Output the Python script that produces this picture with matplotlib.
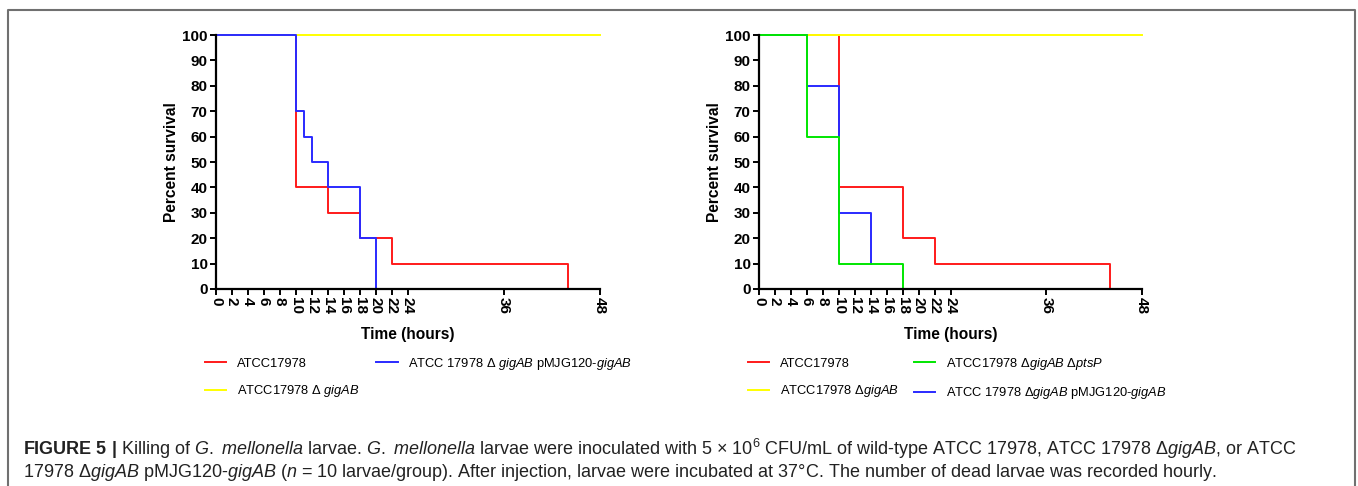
import matplotlib.pyplot as plt
from matplotlib.lines import Line2D

plt.rcParams['font.family'] = ['Liberation Sans', 'DejaVu Sans']
plt.rcParams['mathtext.fontset'] = 'custom'
plt.rcParams['mathtext.rm'] = 'Liberation Sans'
plt.rcParams['mathtext.it'] = 'Liberation Sans:italic'
plt.rcParams['mathtext.bf'] = 'Liberation Sans:bold'

# survival curves (time in hours, percent survival)
left_wt_t = [0, 10, 14, 18, 22, 44]
left_wt_s = [100, 40, 30, 20, 10, 0]
left_del_t = [0, 48]
left_del_s = [100, 100]
left_comp_t = [0, 10, 11, 12, 14, 18, 20]
left_comp_s = [100, 70, 60, 50, 40, 20, 0]

right_wt_t = [0, 10, 18, 22, 44]
right_wt_s = [100, 40, 20, 10, 0]
right_del_t = [0, 48]
right_del_s = [100, 100]
right_comp_t = [0, 6, 10, 14]
right_comp_s = [100, 80, 30, 10]
right_pts_t = [0, 6, 10, 18]
right_pts_s = [100, 60, 10, 0]

x_ticks = [0, 2, 4, 6, 8, 10, 12, 14, 16, 18, 20, 22, 24, 36, 48]
y_ticks = list(range(0, 101, 10))

lab_wt = 'ATCC17978'
lab_del = r'ATCC17978 $\mathit{\Delta\ gigAB}$'
lab_comp = r'ATCC 17978 $\mathit{\Delta\ gigAB}$ pMJG120-$\mathit{gigAB}$'
lab_del_r = r'ATCC17978 $\mathit{\Delta gigAB}$'
lab_pts = r'ATCC17978 $\mathit{\Delta gigAB\ \Delta ptsP}$'
lab_comp_r = r'ATCC 17978 $\mathit{\Delta gigAB}$ pMJG120-$\mathit{gigAB}$'

RED = '#ff1a1a'
YEL = '#ffff00'
BLUE = '#2a2aff'
GREEN = '#00e600'

W, H = 1358, 486
fig = plt.figure(figsize=(W / 100, H / 100), dpi=100)

# frame around the figure (no bottom edge)
fig.add_artist(Line2D([8 / W, 8 / W, 1355 / W, 1355 / W], [0, 1 - 10 / H, 1 - 10 / H, 0],
                      transform=fig.transFigure, color='#707070', lw=1.5))

ax1 = fig.add_axes([216 / W, 1 - 289 / H, 384 / W, 254 / H])
ax2 = fig.add_axes([759 / W, 1 - 289 / H, 383 / W, 254 / H])


def style(ax):
    ax.set_xlim(0, 48)
    ax.set_ylim(0, 100)
    ax.spines['top'].set_visible(False)
    ax.spines['right'].set_visible(False)
    ax.spines['left'].set_linewidth(1.6)
    ax.spines['bottom'].set_linewidth(1.6)
    ax.set_xticks(x_ticks)
    ax.set_yticks(y_ticks)
    ax.set_xticklabels([str(v) for v in x_ticks], rotation=-90, fontweight='bold', fontsize=11)
    ax.set_yticklabels([str(v) for v in y_ticks], fontweight='bold', fontsize=11)
    ax.tick_params(direction='out', length=4.5, width=1.4, pad=1.5)
    ax.set_xlabel('Time (hours)', fontweight='bold', fontsize=11.2)
    ax.set_ylabel('Percent survival', fontweight='bold', fontsize=11.2)
    ax.xaxis.set_label_coords(0.5, -0.15)
    ax.yaxis.set_label_coords(-0.097, 0.5)


lw = 1.4
ax1.step(left_wt_t, left_wt_s, where='post', color=RED, lw=lw, clip_on=False, label=lab_wt)
ax1.step(left_del_t, left_del_s, where='post', color=YEL, lw=lw, clip_on=False, label=lab_del)
ax1.step(left_comp_t, left_comp_s, where='post', color=BLUE, lw=lw, clip_on=False, label=lab_comp)
style(ax1)

ax2.step(right_wt_t, right_wt_s, where='post', color=RED, lw=lw, clip_on=False, label=lab_wt)
ax2.step(right_del_t, right_del_s, where='post', color=YEL, lw=lw, clip_on=False, label=lab_del_r)
ax2.step(right_comp_t, right_comp_s, where='post', color=BLUE, lw=lw, clip_on=False, label=lab_comp_r)
ax2.step(right_pts_t, right_pts_s, where='post', color=GREEN, lw=lw, clip_on=False, label=lab_pts)
style(ax2)

h1, l1 = ax1.get_legend_handles_labels()
ax1.legend(h1, l1, ncol=2, loc='upper left', bbox_to_anchor=(-0.029, -0.262), frameon=False,
           fontsize=9.3, handlelength=1.65, handletextpad=0.8, columnspacing=1.35,
           labelspacing=1.05, borderpad=0, borderaxespad=0)

h2, l2 = ax2.get_legend_handles_labels()
order = [0, 1, 3, 2]
ax2.legend([h2[i] for i in order], [l2[i] for i in order], ncol=2, loc='upper left',
           bbox_to_anchor=(-0.029, -0.262), frameon=False, fontsize=9.3, handlelength=1.65,
           handletextpad=0.8, columnspacing=1.2, labelspacing=1.05, borderpad=0, borderaxespad=0)

cap1 = (r'$\mathbf{FIGURE\ 5\ |}$ Killing of $\mathit{G.}$ $\mathit{mellonella}$ larvae. '
        r'$\mathit{G.}$ $\mathit{mellonella}$ larvae were inoculated with 5 × 10$^{6}$ CFU/mL of wild-type '
        r'ATCC 17978, ATCC 17978 Δ$\mathit{gigAB}$, or ATCC')
cap2 = (r'17978 Δ$\mathit{gigAB}$ pMJG120-$\mathit{gigAB}$ ($\mathit{n}$ = 10 larvae/group). '
        r'After injection, larvae were incubated at 37°C. The number of dead larvae was recorded hourly.')
fig.text(23 / W, 1 - 449 / H, cap1, fontsize=13, color='#222222', va='center', ha='left')
fig.text(23 / W, 1 - 472 / H, cap2, fontsize=13, color='#222222', va='center', ha='left')

fig.savefig('out.png', dpi=100)
